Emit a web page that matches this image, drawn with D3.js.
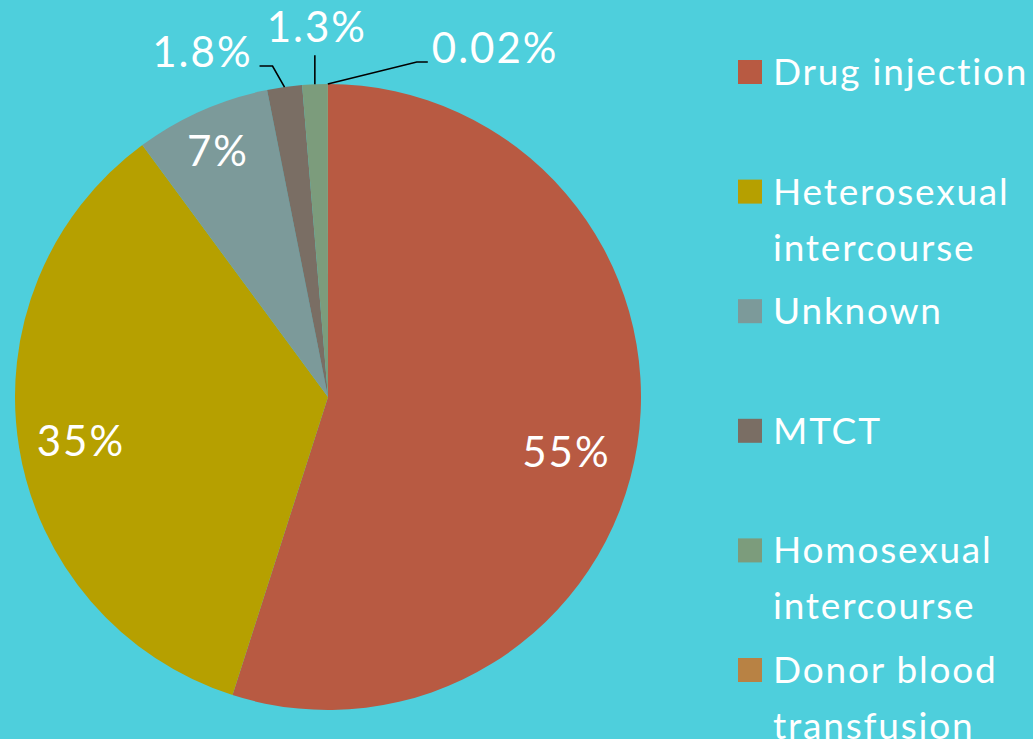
<!DOCTYPE html>
<html>
<head>
<meta charset="utf-8">
<script src="https://cdn.jsdelivr.net/npm/d3@7"></script>
<style>
  body { margin: 0; background: #4ecfdc; overflow: hidden; }
  text { font-family: Lato, "Open Sans", sans-serif; fill: #fff; }
</style>
</head>
<body>
<div id="chart"></div>
<script>
// data
const categories = ["Drug injection", "Heterosexual intercourse", "Unknown", "MTCT", "Homosexual intercourse", "Donor blood transfusion"];
const values = [55, 35, 7, 1.8, 1.3, 0.02];
const labels = ["55%", "35%", "7%", "1.8%", "1.3%", "0.02%"];
const colors = ["#b85a42", "#b6a000", "#7c9a9a", "#7a6e64", "#7c9c7c", "#b88244"];
// legend lines (wrapped like the original)
const legendLines = [["Drug injection"], ["Heterosexual", "intercourse"], ["Unknown"], ["MTCT"], ["Homosexual", "intercourse"], ["Donor blood", "transfusion"]];

const width = 1033, height = 739;
const cx = 328, cy = 397, radius = 313;

const svg = d3.select("#chart")
  .append("svg")
  .attr("width", width)
  .attr("height", height);

const data = categories.map((c, i) => ({ cat: c, value: values[i], label: labels[i], color: colors[i] }));

const pie = d3.pie().sort(null).value(d => d.value);
const arcs = pie(data);

const arc = d3.arc().innerRadius(0).outerRadius(radius);
const labelArc = d3.arc().innerRadius(radius * 0.8).outerRadius(radius * 0.8);
const edgeArc = d3.arc().innerRadius(radius).outerRadius(radius);

const g = svg.append("g")
  .attr("transform", `translate(${cx}, ${cy})`);

g.selectAll("path.slice")
  .data(arcs)
  .join("path")
    .attr("class", "slice")
    .attr("d", arc)
    .attr("fill", d => d.data.color);

// small nudges for the inside labels
const inside = { "Drug injection": [-9, 16], "Heterosexual intercourse": [0, 3], "Unknown": [-9, -17] };
// small slices: labels outside, [dx1, dy1, dx2] for the elbow of the leader line
const outside = { "MTCT": [-12, -21, -13], "Homosexual intercourse": [0, -29, 0], "Donor blood transfusion": [89, -22, 11] };

arcs.forEach(d => {
  const off = outside[d.data.cat];
  if (!off) {
    const [x, y] = labelArc.centroid(d);
    const n = inside[d.data.cat] || [0, 0];
    g.append("text")
      .attr("x", x + n[0])
      .attr("y", y + n[1])
      .attr("text-anchor", "middle")
      .attr("dy", "0.36em")
      .style("font-size", "42px")
      .style("letter-spacing", "2px")
      .text(d.data.label);
  } else {
    const p0 = edgeArc.centroid(d);
    const p1 = [p0[0] + off[0], p0[1] + off[1]];
    const p2 = [p1[0] + off[2], p1[1]];
    g.append("polyline")
      .attr("points", [p0, p1, p2].map(p => p.join(",")).join(" "))
      .attr("fill", "none")
      .attr("stroke", "#000")
      .attr("stroke-width", 1.6);
    const anchor = off[2] < 0 ? "end" : off[2] > 0 ? "start" : "middle";
    g.append("text")
      .attr("x", p2[0] + (off[2] < 0 ? -7 : off[2] > 0 ? 4 : 2))
      .attr("y", off[2] === 0 ? p2[1] - 13 : p2[1] + 1)
      .attr("text-anchor", anchor)
      .style("font-size", "42px")
      .style("letter-spacing", "2px")
      .text(d.data.label);
  }
});

// legend
const legendY = d3.scalePoint()
  .domain(categories)
  .range([72, 670]);

const legend = svg.append("g")
  .selectAll("g")
  .data(data)
  .join("g")
    .attr("transform", d => `translate(738, ${legendY(d.cat)})`);

legend.append("rect")
  .attr("x", 0)
  .attr("y", -12)
  .attr("width", 24)
  .attr("height", 24)
  .attr("fill", d => d.color);

legend.each(function(d, i) {
  d3.select(this).selectAll("text")
    .data(legendLines[i])
    .join("text")
      .attr("x", 35)
      .attr("y", (t, j) => 13 + j * 56)
      .style("font-size", "37px")
      .style("letter-spacing", "1.8px")
      .text(t => t);
});
</script>
</body>
</html>
